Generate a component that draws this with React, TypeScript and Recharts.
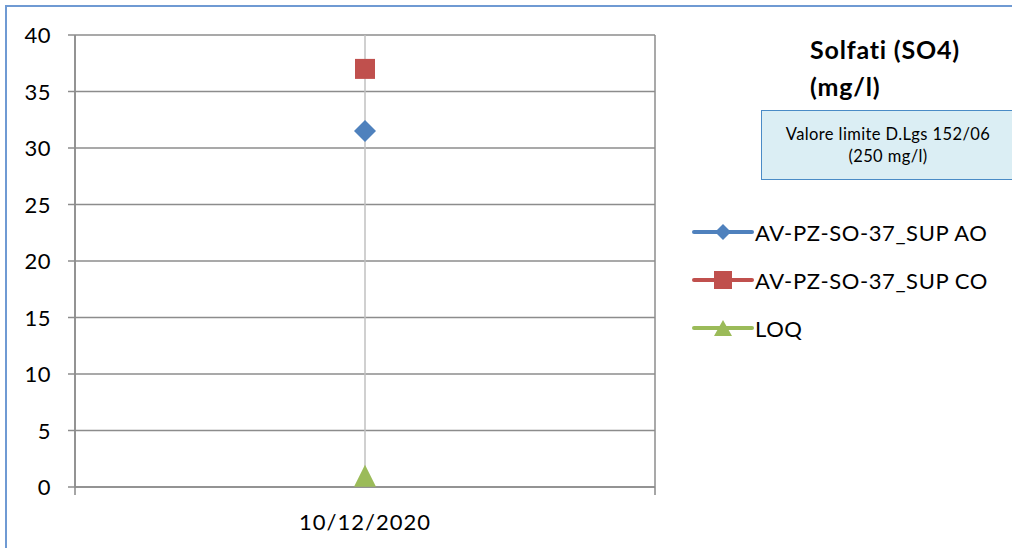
import React from 'react';
import { LineChart, Line, XAxis, YAxis, CartesianGrid, ReferenceLine } from 'recharts';

// Data
const categories = ['10/12/2020'];
const aoValues = [31.5];
const coValues = [37];
const loqValues = [1];
const yTicks = [0, 5, 10, 15, 20, 25, 30, 35, 40];

const seriesNames = ['AV-PZ-SO-37_SUP AO', 'AV-PZ-SO-37_SUP CO', 'LOQ'];
const BLUE = '#4f81bd';
const RED = '#c0504d';
const GREEN = '#9bbb59';
const FONT = 'Lato, "Open Sans", sans-serif';

const data = categories.map((c, i) => ({
  x: i + 1,
  date: c,
  ao: aoValues[i],
  co: coValues[i],
  loq: loqValues[i],
}));

const xTicks = [0.5, ...categories.map((_, i) => i + 1), categories.length + 0.5];

const Diamond = ({ cx, cy }: any) =>
  cx == null ? null : (
    <path d={`M${cx},${cy - 11} L${cx + 11},${cy} L${cx},${cy + 11} L${cx - 11},${cy} Z`} fill={BLUE} />
  );

const Square = ({ cx, cy }: any) =>
  cx == null ? null : <rect x={cx - 10} y={cy - 10} width={20} height={20} fill={RED} />;

const Triangle = ({ cx, cy }: any) =>
  cx == null ? null : (
    <path d={`M${cx},${cy - 11} L${cx + 11},${cy + 11} L${cx - 11},${cy + 11} Z`} fill={GREEN} />
  );

const XTick = ({ x, y, payload }: any) => {
  const v = payload.value;
  if (Number.isInteger(v)) {
    return (
      <text
        x={x}
        y={y + 35}
        textAnchor="middle"
        fontSize={22}
        letterSpacing={1}
        fill="#000"
        fontFamily={FONT}
      >
        {categories[v - 1]}
      </text>
    );
  }
  return <line x1={x} y1={y - 8} x2={x} y2={y} stroke="#888" strokeWidth={1.5} />;
};

// y labels sit well left of the tick marks, like the Excel original
const YTick = ({ y, payload }: any) => (
  <text x={51} y={y + 8} textAnchor="end" fontSize={22} letterSpacing={0.5} fill="#000" fontFamily={FONT}>
    {payload.value}
  </text>
);

const legendItems = [
  { name: seriesNames[0], color: BLUE, shape: 'diamond' },
  { name: seriesNames[1], color: RED, shape: 'square' },
  { name: seriesNames[2], color: GREEN, shape: 'triangle' },
];

const LegendIcon = ({ color, shape }: { color: string; shape: string }) => (
  <svg width={62} height={20} style={{ display: 'block' }}>
    <line x1={2} y1={10} x2={60} y2={10} stroke={color} strokeWidth={4} strokeLinecap="round" />
    {shape === 'diamond' && <path d="M31,2 L39,10 L31,18 L23,10 Z" fill={color} />}
    {shape === 'square' && <rect x={22} y={1} width={18} height={18} fill={color} />}
    {shape === 'triangle' && <path d="M31,2 L40,18 L22,18 Z" fill={color} />}
  </svg>
);

export default function App() {
  return (
    <div
      style={{
        position: 'absolute',
        left: 0,
        top: 0,
        width: 1012,
        height: 548,
        overflow: 'hidden',
        background: '#fff',
        fontFamily: FONT,
      }}
    >
      <div
        style={{
          position: 'absolute',
          left: 5,
          top: 5,
          width: 1100,
          height: 600,
          borderLeft: '2px solid #6f9ad3',
          borderTop: '2px solid #6f9ad3',
        }}
      />
      <LineChart
        width={1012}
        height={548}
        data={data}
        margin={{ top: 35, right: 357, left: 0, bottom: 21 }}
        style={{ position: 'absolute', left: 0, top: 0 }}
      >
        <CartesianGrid vertical={false} stroke="#8c8c8c" strokeWidth={1.5} />
        <ReferenceLine x={1} stroke="#c0c0c0" strokeWidth={1.5} />
        <ReferenceLine x={0.5} stroke="#8c8c8c" strokeWidth={1.5} />
        <ReferenceLine x={categories.length + 0.5} stroke="#8c8c8c" strokeWidth={1.5} />
        <XAxis
          dataKey="x"
          type="number"
          domain={[0.5, categories.length + 0.5]}
          ticks={xTicks}
          interval={0}
          height={40}
          axisLine={{ stroke: '#8c8c8c', strokeWidth: 1.5 }}
          tickLine={false}
          tick={<XTick />}
        />
        <YAxis
          domain={[0, 40]}
          ticks={yTicks}
          width={75}
          interval={0}
          tickSize={7}
          axisLine={{ stroke: '#8c8c8c', strokeWidth: 1.5 }}
          tickLine={{ stroke: '#8c8c8c', strokeWidth: 1.5 }}
          tick={<YTick />}
        />
        <Line dataKey="ao" name={seriesNames[0]} stroke={BLUE} strokeWidth={3} dot={<Diamond />} isAnimationActive={false} />
        <Line dataKey="co" name={seriesNames[1]} stroke={RED} strokeWidth={3} dot={<Square />} isAnimationActive={false} />
        <Line dataKey="loq" name={seriesNames[2]} stroke={GREEN} strokeWidth={3} dot={<Triangle />} isAnimationActive={false} />
      </LineChart>

      <div
        style={{
          position: 'absolute',
          left: 810,
          top: 31,
          fontSize: 25,
          fontWeight: 'bold',
          letterSpacing: 0.8,
          lineHeight: '37px',
          color: '#000',
        }}
      >
        Solfati (SO4)
        <br />
        (mg/l)
      </div>

      <div
        style={{
          position: 'absolute',
          left: 761,
          top: 110,
          width: 300,
          height: 70,
          background: '#dbeef4',
          border: '1.5px solid #4a8bc6',
          boxSizing: 'border-box',
        }}
      >
        <div
          style={{
            position: 'absolute',
            left: 0,
            width: 252,
            top: 12,
            textAlign: 'center',
            fontSize: 16.5,
            letterSpacing: 0.4,
            lineHeight: '22px',
            color: '#000',
          }}
        >
          Valore limite D.Lgs 152/06
          <br />
          (250 mg/l)
        </div>
      </div>

      <div style={{ position: 'absolute', left: 692, top: 208 }}>
        {legendItems.map((it) => (
          <div key={it.name} style={{ display: 'flex', alignItems: 'center', height: 48 }}>
            <LegendIcon color={it.color} shape={it.shape} />
            <span style={{ fontSize: 22, letterSpacing: 0.6, color: '#000', marginLeft: 1 }}>{it.name}</span>
          </div>
        ))}
      </div>
    </div>
  );
}
